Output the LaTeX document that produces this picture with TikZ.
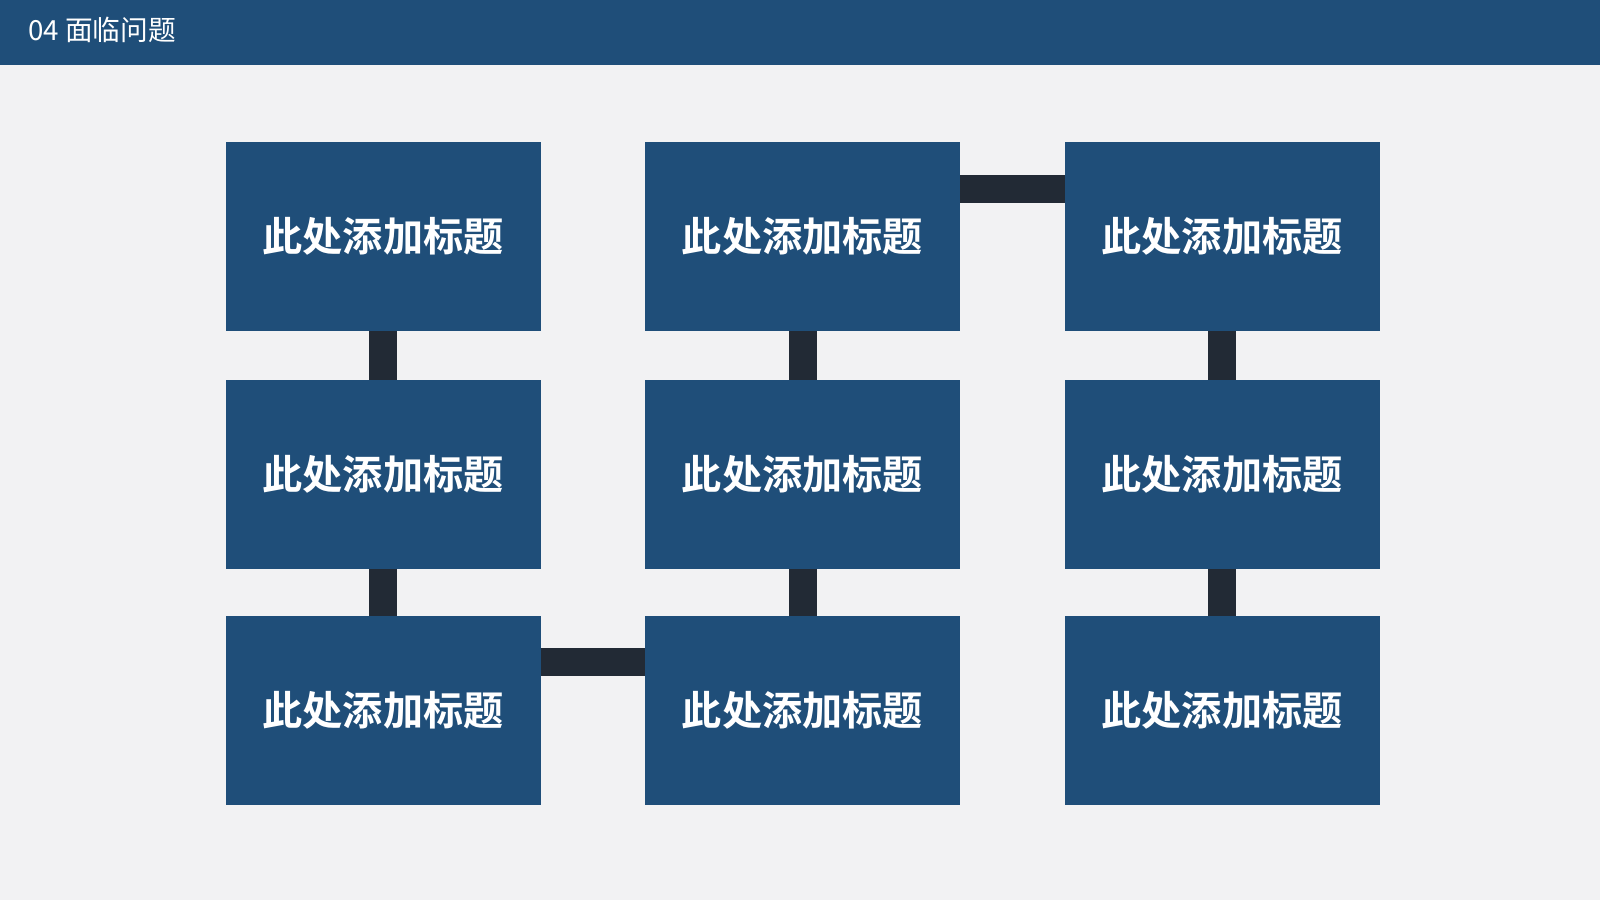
\documentclass[tikz,border=0pt]{standalone}
\usepackage{fontspec}
\newfontfamily\cjk{Noto Sans CJK SC}
\newfontfamily\cjkbold{Noto Sans CJK SC}[UprightFont=* Bold]
\definecolor{bg}{HTML}{F2F2F3}
\definecolor{navy}{HTML}{1F4E79}
\definecolor{conn}{HTML}{222A35}
\tikzset{
  box/.style={draw=none, fill=navy, minimum width=315pt, minimum height=189pt, inner sep=0pt, outer sep=0pt,
    text=white, font=\cjkbold\fontsize{40.2}{40.2}\selectfont},
  link/.style={draw=conn, line width=28pt},
}
\begin{document}
\begin{tikzpicture}[x=1pt,y=-1pt]
\useasboundingbox (0,0) rectangle (1600,900);
\fill[bg] (0,0) rectangle (1600,900);
\fill[navy] (0,0) rectangle (1600,65);
\node[anchor=west, text=white, font=\cjk\fontsize{27.7}{27.7}\selectfont, inner sep=0pt] (title) at (28,30) {04 面临问题};
% boxes
\node[box] (b11) at (383,236.5) {此处添加标题};
\node[box] (b12) at (802.5,236.5) {此处添加标题};
\node[box] (b13) at (1222,236.5) {此处添加标题};
\node[box] (b21) at (383,474) {此处添加标题};
\node[box] (b22) at (802.5,474) {此处添加标题};
\node[box] (b23) at (1222,474) {此处添加标题};
\node[box] (b31) at (383,710) {此处添加标题};
\node[box] (b32) at (802.5,710) {此处添加标题};
\node[box] (b33) at (1222,710) {此处添加标题};
% connectors
\draw[link] (b11.south) -- (b21.north);
\draw[link] (b21.south) -- (b31.north);
\draw[link] (b12.south) -- (b22.north);
\draw[link] (b22.south) -- (b32.north);
\draw[link] (b13.south) -- (b23.north);
\draw[link] (b23.south) -- (b33.north);
\draw[link] ([yshift=-47pt]b12.north east) -- ([yshift=-47pt]b13.north west);
\draw[link] ([yshift=-46pt]b31.north east) -- ([yshift=-46pt]b32.north west);
\end{tikzpicture}
\end{document}
